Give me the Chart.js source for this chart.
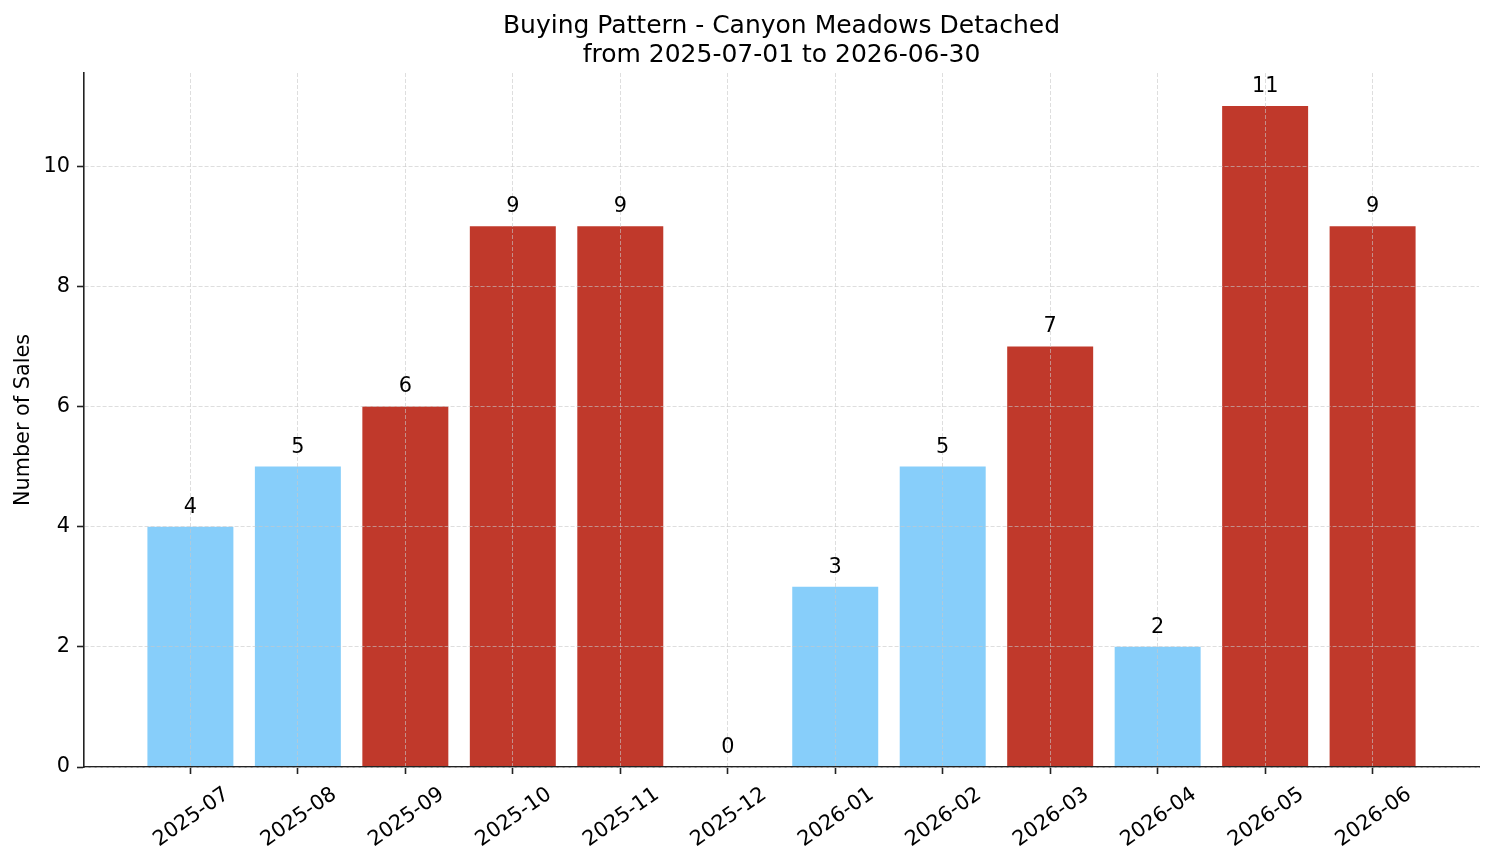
<!DOCTYPE html>
<html>
<head>
<meta charset="utf-8">
<title>Buying Pattern - Canyon Meadows Detached</title>
<script src="https://cdn.jsdelivr.net/npm/chart.js@4.4.1/dist/chart.umd.min.js"></script>
<style>
  html, body { margin: 0; padding: 0; background: #fff; }
  #wrap { width: 1494px; height: 863px; }
</style>
</head>
<body>
<div id="wrap"><canvas id="chart"></canvas></div>
<script>
// ===== Data =====
var months = ['2025-07', '2025-08', '2025-09', '2025-10', '2025-11', '2025-12',
              '2026-01', '2026-02', '2026-03', '2026-04', '2026-05', '2026-06'];
var sales = [4, 5, 6, 9, 9, 0, 3, 5, 7, 2, 11, 9];
var yTicks = [0, 2, 4, 6, 8, 10];
var titleLines = ['Buying Pattern - Canyon Meadows Detached', 'from 2025-07-01 to 2026-06-30'];
var yTitle = 'Number of Sales';

var FONT = '"DejaVu Sans"';
var FS = 20.8;
var HIGH = '#c0392b', LOW = '#87cefa';

Chart.defaults.font.family = FONT;
Chart.defaults.color = '#000';

// months above the average are red, the rest light blue
var mean = sales.reduce(function(a, b) { return a + b; }, 0) / sales.length;
var barColors = sales.map(function(v) { return v > mean ? HIGH : LOW; });
var points = sales.map(function(v, i) { return { x: i, y: v }; });

// title (centred over the axes), value labels, rotated month labels, y title
var textPlugin = {
  id: 'textPlugin',
  afterDraw: function(chart) {
    var ctx = chart.ctx, xs = chart.scales.x, area = chart.chartArea;
    ctx.save();
    ctx.fillStyle = '#000';
    ctx.textAlign = 'center';
    ctx.textBaseline = 'alphabetic';

    ctx.font = '25px ' + FONT;
    var mid = (area.left + area.right) / 2;
    ctx.fillText(titleLines[0], mid, 33);
    ctx.fillText(titleLines[1], mid, 62);

    ctx.font = FS + 'px ' + FONT;
    chart.getDatasetMeta(0).data.forEach(function(bar, i) {
      ctx.fillText(String(sales[i]), bar.x, bar.y - 14);
    });

    var ang = 35 * Math.PI / 180;
    var cos = Math.cos(ang), sin = Math.sin(ang);
    months.forEach(function(m, i) {
      var w = ctx.measureText(m).width, h = FS * 1.164;
      var bh = w * sin + h * cos;
      var cx = xs.getPixelForValue(i), cy = area.bottom + 14 + bh / 2;
      ctx.save();
      ctx.translate(cx, cy);
      ctx.rotate(-ang);
      ctx.fillText(m, 0, 0.346 * FS);
      ctx.restore();
    });

    ctx.save();
    ctx.translate(29, (area.top + area.bottom) / 2);
    ctx.rotate(-Math.PI / 2);
    ctx.fillText(yTitle, 0, 0);
    ctx.restore();

    ctx.restore();
  }
};

var gridOpts = {
  color: 'rgba(200,200,200,0.6)',
  lineWidth: 1,
  offset: false,
  z: 1,
  drawTicks: true,
  tickLength: 7,
  tickColor: '#222',
  tickWidth: 1.6,
  tickBorderDash: []
};
var borderOpts = { display: true, color: '#222', width: 1.6, dash: [4, 2], z: 1 };

new Chart(document.getElementById('chart').getContext('2d'), {
  type: 'bar',
  data: {
    datasets: [{
      data: points,
      backgroundColor: barColors,
      borderWidth: 0,
      categoryPercentage: 1,
      barPercentage: 0.8
    }]
  },
  options: {
    responsive: true,
    maintainAspectRatio: false,
    animation: false,
    layout: { padding: { left: 0, right: 15, top: 73, bottom: 0 } },
    plugins: {
      legend: { display: false },
      tooltip: { enabled: false },
      title: { display: false }
    },
    scales: {
      x: {
        type: 'linear',
        min: -0.99,
        max: 11.99,
        offset: false,
        afterBuildTicks: function(scale) {
          scale.ticks = months.map(function(m, i) { return { value: i }; });
        },
        afterFit: function(scale) { scale.height = 96; },
        ticks: { display: false },
        grid: gridOpts,
        border: borderOpts
      },
      y: {
        min: 0,
        max: 11.55,
        afterBuildTicks: function(scale) {
          scale.ticks = yTicks.map(function(v) { return { value: v }; });
        },
        afterFit: function(scale) { scale.width = 84; },
        ticks: { font: { size: FS }, color: '#000', padding: 7 },
        grid: gridOpts,
        border: borderOpts
      }
    }
  },
  plugins: [textPlugin]
});
</script>
</body>
</html>
